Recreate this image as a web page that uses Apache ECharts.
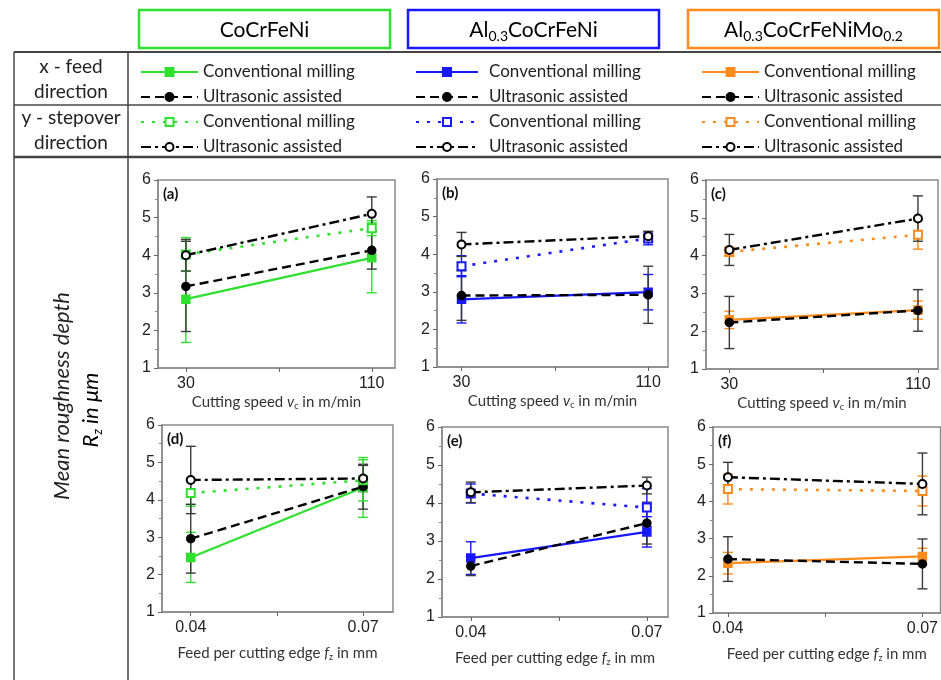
<!DOCTYPE html>
<html>
<head>
<meta charset="utf-8">
<script src="https://cdn.jsdelivr.net/npm/echarts@6/dist/echarts.min.js"></script>
<style>
  html, body { margin: 0; padding: 0; background: #fff; }
  #main { width: 941px; height: 680px; }
</style>
</head>
<body>
<div id="main"></div>
<script>
// x positions
const speeds = [30, 110]
const feeds = [0.04, 0.07]

// (a) CoCrFeNi vs cutting speed
const aConvX = [2.83, 3.93], aConvXErr = [1.15, 0.93]
const aUsX = [3.17, 4.13], aUsXErr = [1.2, 0.5]
const aConvY = [4.02, 4.72], aConvYErr = [0.45, 0.2]
const aUsY = [4.0, 5.1], aUsYErr = [0.42, 0.45]
// (b) Al0.3CoCrFeNi vs cutting speed
const bConvX = [2.8, 2.99], bConvXErr = [0.63, 0.47]
const bUsX = [2.9, 2.92], bUsXErr = [0.66, 0.76]
const bConvY = [3.68, 4.42], bConvYErr = [0.28, 0.17]
const bUsY = [4.26, 4.48], bUsYErr = [0.32, 0.13]
// (c) Al0.3CoCrFeNiMo0.2 vs cutting speed
const cConvX = [2.3, 2.56], cConvXErr = [0.23, 0.24]
const cUsX = [2.23, 2.55], cUsXErr = [0.69, 0.55]
const cConvY = [4.1, 4.55], cConvYErr = [0.12, 0.38]
const cUsY = [4.15, 4.98], cUsYErr = [0.41, 0.6]
// (d) CoCrFeNi vs feed
const dConvX = [2.46, 4.33], dConvXErr = [0.67, 0.8]
const dUsX = [2.96, 4.35], dUsXErr = [0.92, 0.6]
const dConvY = [4.18, 4.52], dConvYErr = [0.35, 0.55]
const dUsY = [4.53, 4.57], dUsYErr = [0.9, 0.35]
// (e) Al0.3CoCrFeNi vs feed
const eConvX = [2.55, 3.24], eConvXErr = [0.43, 0.4]
const eUsX = [2.34, 3.47], eUsXErr = [0.25, 0.55]
const eConvY = [4.25, 3.88], eConvYErr = [0.25, 0.5]
const eUsY = [4.28, 4.46], eUsYErr = [0.27, 0.22]
// (f) Al0.3CoCrFeNiMo0.2 vs feed
const fConvX = [2.34, 2.52], fConvXErr = [0.29, 0.22]
const fUsX = [2.45, 2.32], fUsXErr = [0.6, 0.67]
const fConvY = [4.33, 4.28], fConvYErr = [0.4, 0.4]
const fUsY = [4.65, 4.47], fUsYErr = [0.4, 0.83]

const materials = ['CoCrFeNi', 'Al0.3CoCrFeNi', 'Al0.3CoCrFeNiMo0.2']
const matColors = ['#2fe02f', '#1818ff', '#ff8c1a']
const kinds = ['convX', 'usX', 'convY', 'usY']

const FONT = 'Lato, "Open Sans", sans-serif'
const NUMFONT = '"Liberation Sans", Arial, sans-serif'

const panels = [
  { tag: '(a)', mat: 0, xs: speeds, grid: { left: 158, top: 180, width: 237, height: 188 }, min: 18, max: 120, means: [aConvX, aUsX, aConvY, aUsY], errs: [aConvXErr, aUsXErr, aConvYErr, aUsYErr] },
  { tag: '(b)', mat: 1, xs: speeds, grid: { left: 437, top: 179, width: 231, height: 188 }, min: 19.5, max: 118.5, means: [bConvX, bUsX, bConvY, bUsY], errs: [bConvXErr, bUsXErr, bConvYErr, bUsYErr] },
  { tag: '(c)', mat: 2, xs: speeds, grid: { left: 706, top: 180, width: 232, height: 189 }, min: 20.1, max: 118.5, means: [cConvX, cUsX, cConvY, cUsY], errs: [cConvXErr, cUsXErr, cConvYErr, cUsYErr] },
  { tag: '(d)', mat: 0, xs: feeds, grid: { left: 162, top: 425, width: 231, height: 187 }, min: 0.035, max: 0.0752, means: [dConvX, dUsX, dConvY, dUsY], errs: [dConvXErr, dUsXErr, dConvYErr, dUsYErr] },
  { tag: '(e)', mat: 1, xs: feeds, grid: { left: 442, top: 427, width: 226, height: 190 }, min: 0.0351, max: 0.0736, means: [eConvX, eUsX, eConvY, eUsY], errs: [eConvXErr, eUsXErr, eConvYErr, eUsYErr] },
  { tag: '(f)', mat: 2, xs: feeds, grid: { left: 713, top: 427, width: 232, height: 186 }, min: 0.0377, max: 0.0728, means: [fConvX, fUsX, fConvY, fUsY], errs: [fConvXErr, fUsXErr, fConvYErr, fUsYErr] }
]

const lineTypes = {
  convX: { type: 'solid', width: 2.2 },
  usX: { type: [9, 5], width: 2.4 },
  convY: { type: [3, 8], width: 2.6 },
  usY: { type: [10, 4, 3, 4], width: 2.4 }
}
const symbols = { convX: 'rect', usX: 'circle', convY: 'emptyRect', usY: 'emptyCircle' }

const axisGray = '#8a8a8a'
const subRich = {
  n: { fontSize: 15, fontFamily: FONT, color: '#333', lineHeight: 18, verticalAlign: 'middle' },
  i: { fontSize: 15, fontFamily: FONT, color: '#333', fontStyle: 'italic', lineHeight: 18, verticalAlign: 'middle' },
  s: { fontSize: 9, fontFamily: FONT, color: '#333', lineHeight: 18, verticalAlign: 'bottom' }
}

const grids = [], xAxes = [], yAxes = [], lineSeries = [], errSeries = [], graphics = []

function errorBar(params, api) {
  const x = api.value(0)
  const p1 = api.coord([x, api.value(1)])
  const p2 = api.coord([x, api.value(2)])
  const w = 5
  const style = { stroke: api.visual('color'), lineWidth: 1.4 }
  return {
    type: 'group',
    children: [
      { type: 'line', shape: { x1: p1[0], y1: p1[1], x2: p2[0], y2: p2[1] }, style },
      { type: 'line', shape: { x1: p1[0] - w, y1: p1[1], x2: p1[0] + w, y2: p1[1] }, style },
      { type: 'line', shape: { x1: p2[0] - w, y1: p2[1], x2: p2[0] + w, y2: p2[1] }, style }
    ]
  }
}

panels.forEach((p, i) => {
  const isSpeed = p.xs === speeds
  grids.push(Object.assign({ show: true, borderColor: axisGray, borderWidth: 1.5, backgroundColor: '#fff' }, p.grid))
  xAxes.push({
    type: 'value', gridIndex: i, min: p.min, max: p.max,
    axisLine: { lineStyle: { color: axisGray, width: 1.5 } },
    axisTick: { customValues: [p.xs[0], (p.xs[0] + p.xs[1]) / 2, p.xs[1]], length: 4, lineStyle: { color: '#666' } },
    axisLabel: {
      customValues: p.xs, fontSize: 16, fontFamily: NUMFONT, color: '#222', margin: 8,
      formatter: v => isSpeed ? String(Math.round(v)) : v.toFixed(2)
    },
    splitLine: { show: false },
    name: isSpeed ? '{n|Cutting speed }{i|v}{s|c}{n| in m/min}' : '{n|Feed per cutting edge }{i|f}{s|z}{n| in mm}',
    nameLocation: 'middle', nameGap: isSpeed ? 25 : 32,
    nameTextStyle: { rich: subRich }
  })
  yAxes.push({
    type: 'value', gridIndex: i, min: 1, max: 6, interval: 1,
    axisLine: { show: true, lineStyle: { color: axisGray, width: 1.5 } },
    axisTick: { show: true, length: 4, lineStyle: { color: '#666' } },
    minorTick: { show: true, splitNumber: 2, length: 3, lineStyle: { color: '#888' } },
    axisLabel: { fontSize: 16, fontFamily: NUMFONT, color: '#222', margin: 7 },
    splitLine: { show: false }
  })
  graphics.push({
    type: 'text', left: p.grid.left + 5, top: p.grid.top + 7, z: 100,
    style: { text: p.tag, font: 'bold 15px ' + FONT, fill: '#111' }
  })
  kinds.forEach((k, j) => {
    const color = j % 2 === 0 ? matColors[p.mat] : '#000'
    const name = materials[p.mat] + '|' + k
    const mean = p.means[j], err = p.errs[j]
    lineSeries.push({
      type: 'line', name, xAxisIndex: i, yAxisIndex: i,
      data: p.xs.map((x, n) => [x, mean[n]]),
      symbol: symbols[k], symbolSize: 8, z: 5 + j,
      itemStyle: { color, borderColor: color, borderWidth: 1.5 },
      lineStyle: { color, width: lineTypes[k].width, type: lineTypes[k].type },
      emphasis: { disabled: true }
    })
    errSeries.push({
      type: 'custom', name, xAxisIndex: i, yAxisIndex: i, z: 3,
      itemStyle: { color: j % 2 === 0 ? matColors[p.mat] : '#3a3a3a', opacity: 0.85 },
      renderItem: errorBar,
      encode: { x: 0, y: [1, 2] },
      data: p.xs.map((x, n) => [x, mean[n] - err[n], mean[n] + err[n]])
    })
  })
})

// header table rules
const ruleColor = '#444'
;[[14, 52, 941, 52, 2], [14, 105, 941, 105, 1.5], [14, 157, 941, 157, 2.5], [14, 52, 14, 680, 1.5], [128, 52, 128, 680, 1.5]].forEach(l => {
  graphics.push({ type: 'line', shape: { x1: l[0], y1: l[1], x2: l[2], y2: l[3] }, style: { stroke: ruleColor, lineWidth: l[4] }, z: 1 })
})

// header material boxes
const boxX = [139, 408, 688]
const titleRich = {
  t: { fontSize: 21, fontFamily: FONT, color: '#222', lineHeight: 26, verticalAlign: 'middle' },
  s: { fontSize: 14, fontFamily: FONT, color: '#222', lineHeight: 26, verticalAlign: 'bottom' }
}
const titleTexts = ['{t|CoCrFeNi}', '{t|Al}{s|0.3}{t|CoCrFeNi}', '{t|Al}{s|0.3}{t|CoCrFeNiMo}{s|0.2}']
boxX.forEach((x, i) => {
  graphics.push({ type: 'rect', shape: { x, y: 10, width: 251, height: 38 }, style: { fill: '#fff', stroke: matColors[i], lineWidth: 2.5 }, z: 1 })
  graphics.push({ type: 'text', x: x + 125.5, y: 30, z: 2, style: { text: titleTexts[i], rich: titleRich, align: 'center', verticalAlign: 'middle' } })
})

// row headings
;[['x - feed', 67], ['direction', 92], ['y - stepover', 118], ['direction', 143]].forEach(r => {
  graphics.push({ type: 'text', x: 71, y: r[1], z: 2, style: { text: r[0], font: '19px ' + FONT, fill: '#222', align: 'center', verticalAlign: 'middle' } })
})

// rotated y title
graphics.push({
  type: 'text', x: 62, y: 396, rotation: Math.PI / 2, z: 2,
  style: { text: 'Mean roughness depth', font: 'italic 22px ' + FONT, fill: '#222', align: 'center', verticalAlign: 'middle' }
})
graphics.push({
  type: 'text', x: 91, y: 410, rotation: Math.PI / 2, z: 2,
  style: {
    text: '{i|R}{s|z}{i| in μm}', align: 'center', verticalAlign: 'middle',
    rich: {
      i: { fontSize: 22, fontStyle: 'italic', fontFamily: FONT, color: '#222', lineHeight: 26, verticalAlign: 'middle' },
      s: { fontSize: 13, fontStyle: 'italic', fontFamily: FONT, color: '#222', lineHeight: 26, verticalAlign: 'bottom' }
    }
  }
})

const legendX = [135, 410, 696]
const legends = materials.map((m, i) => ({
  orient: 'vertical', left: legendX[i], top: 57,
  itemWidth: i === 1 ? 62 : 57, itemHeight: 10, itemGap: 5,
  data: kinds.map(k => m + '|' + k),
  formatter: n => n.indexOf('conv') > -1 ? 'Conventional milling' : 'Ultrasonic assisted',
  textStyle: { fontSize: 17, fontFamily: FONT, color: '#222', lineHeight: 20, padding: [0, 0, 0, i === 1 ? 6 : 0] }
}))

const chart = echarts.init(document.getElementById('main'))
chart.setOption({
  backgroundColor: '#fff',
  animation: false,
  grid: grids,
  xAxis: xAxes,
  yAxis: yAxes,
  legend: legends,
  graphic: graphics,
  series: lineSeries.concat(errSeries)
})
</script>
</body>
</html>
